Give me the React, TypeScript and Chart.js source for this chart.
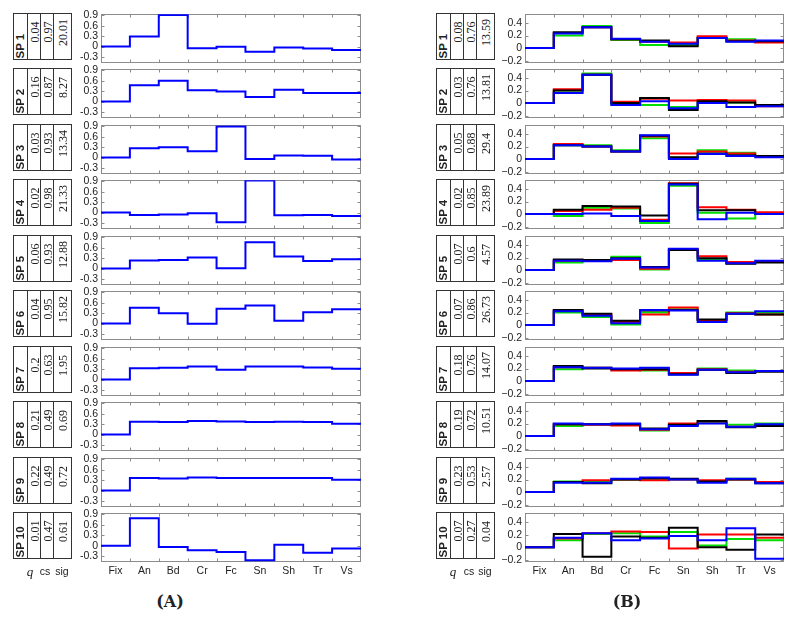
import React, { useEffect, useRef } from 'react';
import { Chart, registerables } from 'chart.js';

Chart.register(...registerables);

// ---------- data ----------
const cats = ['Fix', 'An', 'Bd', 'Cr', 'Fc', 'Sn', 'Sh', 'Tr', 'Vs'];

const yTicksA = [-0.3, 0, 0.3, 0.6, 0.9];
const yTicksB = [-0.2, 0, 0.2, 0.4];

// panel A (blue)
const a1 = [0, 0.29, 0.91, -0.05, -0.01, -0.15, -0.03, -0.06, -0.1];
const a2 = [0, 0.47, 0.6, 0.33, 0.29, 0.13, 0.34, 0.25, 0.25];
const a3 = [0, 0.27, 0.3, 0.18, 0.9, -0.04, 0.06, 0.05, -0.06];
const a4 = [0, -0.07, -0.06, -0.02, -0.28, 0.93, -0.08, -0.07, -0.1];
const a5 = [0, 0.23, 0.25, 0.32, 0.01, 0.76, 0.35, 0.22, 0.27];
const a6 = [0, 0.46, 0.3, -0.01, 0.43, 0.52, 0.08, 0.33, 0.41];
const a7 = [0, 0.33, 0.34, 0.38, 0.28, 0.38, 0.38, 0.35, 0.31];
const a8 = [0, 0.37, 0.36, 0.39, 0.38, 0.36, 0.37, 0.36, 0.31];
const a9 = [0, 0.36, 0.35, 0.38, 0.36, 0.36, 0.36, 0.36, 0.31];
const a10 = [0, 0.79, -0.04, -0.13, -0.18, -0.42, 0.03, -0.2, -0.08];

// panel B: k = black, r = red, g = green, b = blue
const k1 = [0, 0.25, 0.33, 0.14, 0.12, 0.03, 0.16, 0.11, 0.11];
const r1 = [0, 0.24, 0.33, 0.14, 0.1, 0.09, 0.19, 0.12, 0.09];
const g1 = [0, 0.2, 0.35, 0.13, 0.05, 0.05, 0.17, 0.14, 0.11];
const b1 = [0, 0.23, 0.33, 0.15, 0.1, 0.07, 0.16, 0.1, 0.12];

const k2 = [0, 0.2, 0.45, 0.0, 0.08, -0.11, 0.03, 0.01, -0.03];
const r2 = [0, 0.22, 0.45, 0.02, 0.07, 0.04, 0.05, 0.04, -0.05];
const g2 = [0, 0.17, 0.47, -0.02, -0.03, -0.06, 0.03, 0.01, -0.04];
const b2 = [0, 0.16, 0.45, -0.03, 0.03, -0.08, 0.0, -0.06, -0.05];

const k3 = [0, 0.22, 0.2, 0.12, 0.37, 0.03, 0.09, 0.06, 0.05];
const r3 = [0, 0.24, 0.2, 0.12, 0.36, 0.09, 0.12, 0.09, 0.05];
const g3 = [0, 0.22, 0.22, 0.14, 0.33, 0.02, 0.14, 0.1, 0.04];
const b3 = [0, 0.22, 0.2, 0.12, 0.38, 0.0, 0.08, 0.05, 0.03];

const k4 = [0, 0.07, 0.13, 0.12, -0.02, 0.48, 0.06, 0.06, 0.0];
const r4 = [0, 0.05, 0.07, 0.1, -0.09, 0.49, 0.11, 0.07, 0.03];
const g4 = [0, -0.03, 0.1, 0.09, -0.14, 0.45, 0.02, -0.07, 0.0];
const b4 = [0, 0.0, 0.01, -0.03, -0.11, 0.47, -0.08, 0.02, 0.0];

const k5 = [0, 0.17, 0.16, 0.19, 0.05, 0.32, 0.19, 0.1, 0.12];
const r5 = [0, 0.15, 0.15, 0.16, 0.02, 0.33, 0.22, 0.13, 0.13];
const g5 = [0, 0.12, 0.15, 0.21, 0.01, 0.33, 0.17, 0.11, 0.14];
const b5 = [0, 0.15, 0.14, 0.18, 0.04, 0.34, 0.15, 0.11, 0.15];

const k6 = [0, 0.24, 0.18, 0.07, 0.23, 0.24, 0.09, 0.18, 0.17];
const r6 = [0, 0.23, 0.17, 0.05, 0.17, 0.28, 0.08, 0.19, 0.17];
const g6 = [0, 0.2, 0.13, 0.01, 0.2, 0.25, 0.08, 0.2, 0.2];
const b6 = [0, 0.22, 0.15, 0.03, 0.24, 0.23, 0.05, 0.18, 0.22];

const k7 = [0, 0.24, 0.2, 0.19, 0.19, 0.11, 0.18, 0.13, 0.15];
const r7 = [0, 0.22, 0.21, 0.17, 0.18, 0.13, 0.19, 0.15, 0.16];
const g7 = [0, 0.19, 0.21, 0.19, 0.17, 0.11, 0.2, 0.17, 0.16];
const b7 = [0, 0.22, 0.21, 0.2, 0.21, 0.1, 0.18, 0.14, 0.16];

const k8 = [0, 0.19, 0.19, 0.19, 0.12, 0.18, 0.24, 0.14, 0.16];
const r8 = [0, 0.19, 0.18, 0.17, 0.1, 0.2, 0.23, 0.15, 0.17];
const g8 = [0, 0.16, 0.19, 0.19, 0.09, 0.17, 0.21, 0.18, 0.2];
const b8 = [0, 0.2, 0.19, 0.2, 0.11, 0.16, 0.2, 0.15, 0.19];

const k9 = [0, 0.16, 0.14, 0.2, 0.22, 0.21, 0.17, 0.2, 0.14];
const r9 = [0, 0.16, 0.19, 0.2, 0.19, 0.2, 0.19, 0.2, 0.16];
const g9 = [0, 0.17, 0.16, 0.2, 0.21, 0.2, 0.17, 0.21, 0.15];
const b9 = [0, 0.15, 0.15, 0.21, 0.23, 0.2, 0.15, 0.21, 0.14];

const k10 = [0, 0.21, -0.15, 0.17, 0.15, 0.31, 0.0, -0.04, 0.2];
const r10 = [0, 0.14, 0.22, 0.25, 0.24, -0.02, 0.2, 0.2, 0.15];
const g10 = [0, 0.11, 0.21, 0.22, 0.17, 0.24, 0.03, 0.13, 0.11];
const b10 = [0, 0.15, 0.22, 0.11, 0.14, 0.18, 0.11, 0.3, -0.18];

// tables
const spLabels = ['SP 1', 'SP 2', 'SP 3', 'SP 4', 'SP 5', 'SP 6', 'SP 7', 'SP 8', 'SP 9', 'SP 10'];
const qA = ['0.04', '0.16', '0.03', '0.02', '0.06', '0.04', '0.2', '0.21', '0.22', '0.01'];
const csA = ['0.97', '0.87', '0.93', '0.98', '0.93', '0.95', '0.63', '0.49', '0.49', '0.47'];
const sigA = ['20.01', '8.27', '13.34', '21.33', '12.88', '15.82', '1.95', '0.69', '0.72', '0.61'];
const qB = ['0.08', '0.03', '0.05', '0.02', '0.07', '0.07', '0.18', '0.19', '0.23', '0.07'];
const csB = ['0.76', '0.76', '0.88', '0.85', '0.6', '0.86', '0.76', '0.72', '0.53', '0.27'];
const sigB = ['13.59', '13.81', '29.4', '23.89', '4.57', '26.73', '14.07', '10.51', '2.57', '0.04'];

const seriesA = [a1, a2, a3, a4, a5, a6, a7, a8, a9, a10];
const seriesB = [
  [k1, r1, g1, b1], [k2, r2, g2, b2], [k3, r3, g3, b3], [k4, r4, g4, b4], [k5, r5, g5, b5],
  [k6, r6, g6, b6], [k7, r7, g7, b7], [k8, r8, g8, b8], [k9, r9, g9, b9], [k10, r10, g10, b10],
];
const colorsB = ['#000000', '#ff0000', '#00dd00', '#0000ff'];
// drawing order (lower = on top): blue on top, then black, red, green
const orderB = [1, 2, 3, 0];

// ---------- layout ----------
const ROW0 = 14;
const PITCH = 55.45;
const PH = 49;
const rowTop = (i: number) => Math.round(ROW0 + i * PITCH);

const SANS = "'Liberation Sans', Arial, Helvetica, sans-serif";
const SERIF = "'Liberation Serif', 'Times New Roman', serif";

type SubProps = {
  left: number; top: number; width: number; height: number;
  series: number[][]; colors: string[]; orders: number[];
  yMin: number; yMax: number; yTicks: number[]; minus: string; bottom: boolean;
};

function stepPoints(vals: number[]) {
  const pts = vals.map((v, i) => ({ x: i, y: v }));
  pts.push({ x: vals.length, y: vals[vals.length - 1] });
  return pts;
}

function SubPlot(p: SubProps) {
  const ref = useRef<HTMLCanvasElement>(null);
  const PT = 8, PB = p.bottom ? 2 : 8, PR = 3, YW = 30, XH = 20;
  const cw = YW + p.width + PR;
  const ch = PT + p.height + PB + (p.bottom ? XH : 0);

  useEffect(() => {
    const frame = {
      id: 'frame',
      beforeDatasetsDraw(chart: any) {
        const { ctx, chartArea: a, scales } = chart;
        ctx.save();
        ctx.strokeStyle = '#8c8c8c';
        ctx.lineWidth = 1;
        const L = Math.round(a.left) + 0.5, R = Math.round(a.right) - 0.5;
        const T = Math.round(a.top) + 0.5, B = Math.round(a.bottom) - 0.5;
        ctx.strokeRect(L, T, R - L, B - T);
        ctx.beginPath();
        for (let i = 1; i < cats.length; i++) {
          const x = Math.round(scales.x.getPixelForValue(i)) + 0.5;
          ctx.moveTo(x, T); ctx.lineTo(x, T + 3);
          ctx.moveTo(x, B); ctx.lineTo(x, B - 3);
        }
        p.yTicks.forEach((v) => {
          const y = Math.round(scales.y.getPixelForValue(v)) + 0.5;
          ctx.moveTo(L, y); ctx.lineTo(L + 3, y);
          ctx.moveTo(R, y); ctx.lineTo(R - 3, y);
        });
        ctx.stroke();
        ctx.restore();
      },
    };
    const chart = new Chart(ref.current as HTMLCanvasElement, {
      type: 'line',
      data: {
        datasets: p.series.map((s, i) => ({
          data: stepPoints(s),
          borderColor: p.colors[i],
          backgroundColor: p.colors[i],
          borderWidth: 2,
          pointRadius: 0,
          stepped: 'before',
          fill: false,
          order: p.orders[i],
        })),
      },
      options: {
        animation: false,
        responsive: false,
        maintainAspectRatio: false,
        events: [],
        layout: { padding: { top: PT, bottom: PB, left: 0, right: PR } },
        plugins: { legend: { display: false }, tooltip: { enabled: false } },
        scales: {
          x: {
            type: 'linear', min: 0, max: cats.length,
            grid: { display: false, drawTicks: false }, border: { display: false },
            afterBuildTicks: (s: any) => { s.ticks = cats.map((_, i) => ({ value: i + 0.5 })); },
            afterFit: (s: any) => { s.height = p.bottom ? XH : 0; },
            ticks: {
              display: p.bottom, autoSkip: false, maxRotation: 0, padding: 3,
              color: '#222', font: { family: SANS, size: 10.5 },
              callback: (_v: any, i: number) => cats[i],
            },
          },
          y: {
            type: 'linear', min: p.yMin, max: p.yMax,
            grid: { display: false, drawTicks: false }, border: { display: false },
            afterBuildTicks: (s: any) => { s.ticks = p.yTicks.map((v) => ({ value: v })); },
            afterFit: (s: any) => { s.width = YW; },
            ticks: {
              autoSkip: false, padding: 3, color: '#222', font: { family: SANS, size: 10.5, lineHeight: 1 },
              callback: (v: any) => {
                const n = Number(v);
                if (Math.abs(n) < 1e-9) return '0';
                const t = String(Math.round(Math.abs(n) * 10) / 10);
                return (n < 0 ? p.minus : '') + t;
              },
            },
          },
        },
      } as any,
      plugins: [frame],
    } as any);
    return () => chart.destroy();
  }, []);

  return (
    <canvas
      ref={ref}
      width={cw}
      height={ch}
      style={{ position: 'absolute', left: p.left - YW, top: p.top - PT, width: cw, height: ch }}
    />
  );
}

function VText(props: { cx: number; cy: number; len: number; thick: number; text: string; style: any; start: boolean }) {
  const { cx, cy, len, thick, text, style, start } = props;
  return (
    <div
      style={{
        position: 'absolute', left: cx - len / 2, top: cy - thick / 2, width: len, height: thick,
        transform: 'rotate(-90deg)', display: 'flex', alignItems: 'center',
        justifyContent: start ? 'flex-start' : 'center', paddingLeft: start ? 2 : 9,
        boxSizing: 'border-box', whiteSpace: 'nowrap', lineHeight: 1, color: '#222', ...style,
      }}
    >
      {text}
    </div>
  );
}

function Table(props: { x: number; top: number; sp: string; q: string; cs: string; sig: string }) {
  const edges = [0, 14, 27, 40, 58];
  const H = 47;
  const texts = [props.sp, props.q, props.cs, props.sig];
  return (
    <>
      <div style={{ position: 'absolute', left: props.x, top: props.top, width: edges[4] + 1, height: H, border: '1px solid #333', boxSizing: 'border-box' }} />
      {[1, 2, 3].map((j) => (
        <div key={j} style={{ position: 'absolute', left: props.x + edges[j], top: props.top, width: 1, height: H, background: '#333' }} />
      ))}
      {texts.map((t, j) => {
        const cx = props.x + (edges[j] + edges[j + 1]) / 2 + 0.5;
        const cy = props.top + H / 2;
        const style = j === 0
          ? { fontFamily: SANS, fontWeight: 'bold', fontSize: 11.5 }
          : { fontFamily: SERIF, fontSize: 12 };
        return <VText key={j} cx={cx} cy={cy} len={H} thick={edges[j + 1] - edges[j]} text={t} style={style} start={j === 0} />;
      })}
    </>
  );
}

function Label(props: { x: number; y: number; text: string; style: any }) {
  return (
    <div style={{ position: 'absolute', left: props.x, top: props.y, transform: 'translate(-50%, -50%)', whiteSpace: 'nowrap', lineHeight: 1, color: '#222', ...props.style }}>
      {props.text}
    </div>
  );
}

export default function App() {
  const rows = spLabels.map((_, i) => i);
  return (
    <div style={{ position: 'absolute', left: 0, top: 0, width: 800, height: 617, background: '#fff', overflow: 'hidden' }}>
      {rows.map((i) => (
        <React.Fragment key={'A' + i}>
          <Table x={13} top={rowTop(i) - 1} sp={spLabels[i]} q={qA[i]} cs={csA[i]} sig={sigA[i]} />
          <SubPlot left={101} top={rowTop(i)} width={260} height={PH} series={[seriesA[i]]} colors={['#0000ff']} orders={[0]}
            yMin={-0.47} yMax={0.935} yTicks={yTicksA} minus={'-'} bottom={i === rows.length - 1} />
        </React.Fragment>
      ))}
      {rows.map((i) => (
        <React.Fragment key={'B' + i}>
          <Table x={436} top={rowTop(i) - 1} sp={spLabels[i]} q={qB[i]} cs={csB[i]} sig={sigB[i]} />
          <SubPlot left={525} top={rowTop(i)} width={259} height={PH} series={seriesB[i]} colors={colorsB} orders={orderB}
            yMin={-0.232} yMax={0.537} yTicks={yTicksB} minus={'\u2212'} bottom={i === rows.length - 1} />
        </React.Fragment>
      ))}
      <Label x={30} y={571} text="q" style={{ fontFamily: SERIF, fontStyle: 'italic', fontSize: 13 }} />
      <Label x={45} y={571} text="cs" style={{ fontFamily: SANS, fontSize: 10.5 }} />
      <Label x={62} y={571} text="sig" style={{ fontFamily: SANS, fontSize: 10.5 }} />
      <Label x={453} y={571} text="q" style={{ fontFamily: SERIF, fontStyle: 'italic', fontSize: 13 }} />
      <Label x={469} y={571} text="cs" style={{ fontFamily: SANS, fontSize: 10.5 }} />
      <Label x={485} y={571} text="sig" style={{ fontFamily: SANS, fontSize: 10.5 }} />
      <Label x={170} y={602} text="(A)" style={{ fontFamily: "'DejaVu Serif', serif", fontWeight: 'bold', fontSize: 16 }} />
      <Label x={627} y={602} text="(B)" style={{ fontFamily: "'DejaVu Serif', serif", fontWeight: 'bold', fontSize: 16 }} />
    </div>
  );
}
